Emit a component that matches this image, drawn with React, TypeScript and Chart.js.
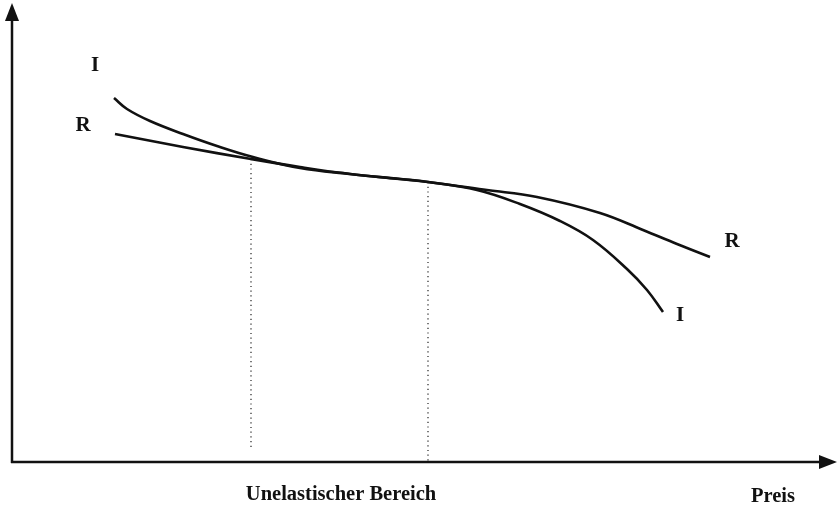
import React, { useEffect, useRef } from "react";
import { Chart, registerables } from "chart.js";

Chart.register(...registerables);

// Schematic curve values (x = Preis, y = response)
const curveIX = [102, 115, 138, 171, 205, 241, 288, 338, 388, 416, 465, 508, 548, 581, 615, 635, 651];
const curveIY = [364, 353, 341, 328, 316, 305, 294, 288, 283, 280, 272, 258, 241, 222, 193, 172, 150];
const curveRX = [103, 171, 239, 288, 338, 388, 416, 475, 525, 588, 631, 665, 698];
const curveRY = [328, 315, 303, 295, 288, 283, 280, 272, 265, 249, 232, 218, 205];
const markerX = [239, 416];
const markerTopY = [303, 280];
const markerBottomY = [15, 0];

const xLabel = "Preis";
const rangeLabel = "Unelastischer Bereich";
const seriesNames = ["I", "R"];

const FONT = "'Liberation Serif', 'Times New Roman', serif";

const axesPlugin = {
  id: "axesPlugin",
  afterDraw(chart: any) {
    const ctx = chart.ctx;
    const xs = chart.scales.x;
    const ys = chart.scales.y;
    const x0 = xs.getPixelForValue(0);
    const y0 = ys.getPixelForValue(0);
    ctx.save();
    ctx.strokeStyle = "#111";
    ctx.fillStyle = "#111";
    ctx.lineWidth = 2.5;
    // y axis
    ctx.beginPath();
    ctx.moveTo(x0, y0 + 1);
    ctx.lineTo(x0, 18);
    ctx.stroke();
    ctx.beginPath();
    ctx.moveTo(x0, 3);
    ctx.lineTo(x0 - 7, 21);
    ctx.lineTo(x0 + 7, 21);
    ctx.closePath();
    ctx.fill();
    // x axis
    ctx.beginPath();
    ctx.moveTo(x0 - 1, y0);
    ctx.lineTo(822, y0);
    ctx.stroke();
    ctx.beginPath();
    ctx.moveTo(837, y0);
    ctx.lineTo(819, y0 - 7);
    ctx.lineTo(819, y0 + 7);
    ctx.closePath();
    ctx.fill();

    // labels
    ctx.font = `bold 21px ${FONT}`;
    ctx.textAlign = "center";
    ctx.textBaseline = "middle";
    const put = (t: string, xv: number, yv: number) =>
      ctx.fillText(t, xs.getPixelForValue(xv), ys.getPixelForValue(yv));
    put(seriesNames[0], 83, 396);
    put(seriesNames[1], 71, 336);
    put(seriesNames[1], 720, 220);
    put(seriesNames[0], 668, 146);
    ctx.font = `bold 20.5px ${FONT}`;
    put(rangeLabel, 329, -33);
    put(xLabel, 761, -35);
    ctx.restore();
  },
};

export default function App() {
  const ref = useRef<HTMLCanvasElement>(null);
  useEffect(() => {
    if (!ref.current) return;
    const toPts = (xa: number[], ya: number[]) => xa.map((x, i) => ({ x, y: ya[i] }));
    const lineStyle = {
      borderColor: "#111",
      borderWidth: 2.6,
      pointRadius: 0,
      fill: false,
      tension: 0.4,
    };
    const markers = markerX.map((x, i) => ({
      data: [
        { x, y: markerTopY[i] },
        { x, y: markerBottomY[i] },
      ],
      borderColor: "#222",
      borderWidth: 1.2,
      borderDash: [1.2, 3.5],
      pointRadius: 0,
      fill: false,
    }));
    const chart = new Chart(ref.current, {
      type: "line",
      data: {
        datasets: [
          { label: seriesNames[0], data: toPts(curveIX, curveIY), ...lineStyle },
          { label: seriesNames[1], data: toPts(curveRX, curveRY), ...lineStyle },
          ...markers,
        ],
      },
      options: {
        animation: false,
        responsive: false,
        layout: { padding: { left: 12, right: 0, top: 0, bottom: 46 } },
        plugins: { legend: { display: false }, tooltip: { enabled: false } },
        scales: {
          x: { type: "linear", min: 0, max: 827, display: false },
          y: { type: "linear", min: 0, max: 462, display: false },
        },
      },
      plugins: [axesPlugin],
    });
    return () => chart.destroy();
  }, []);
  return (
    <div style={{ position: "fixed", left: 0, top: 0, width: 839, height: 508, background: "#fff" }}>
      <canvas ref={ref} width={839} height={508} />
    </div>
  );
}
